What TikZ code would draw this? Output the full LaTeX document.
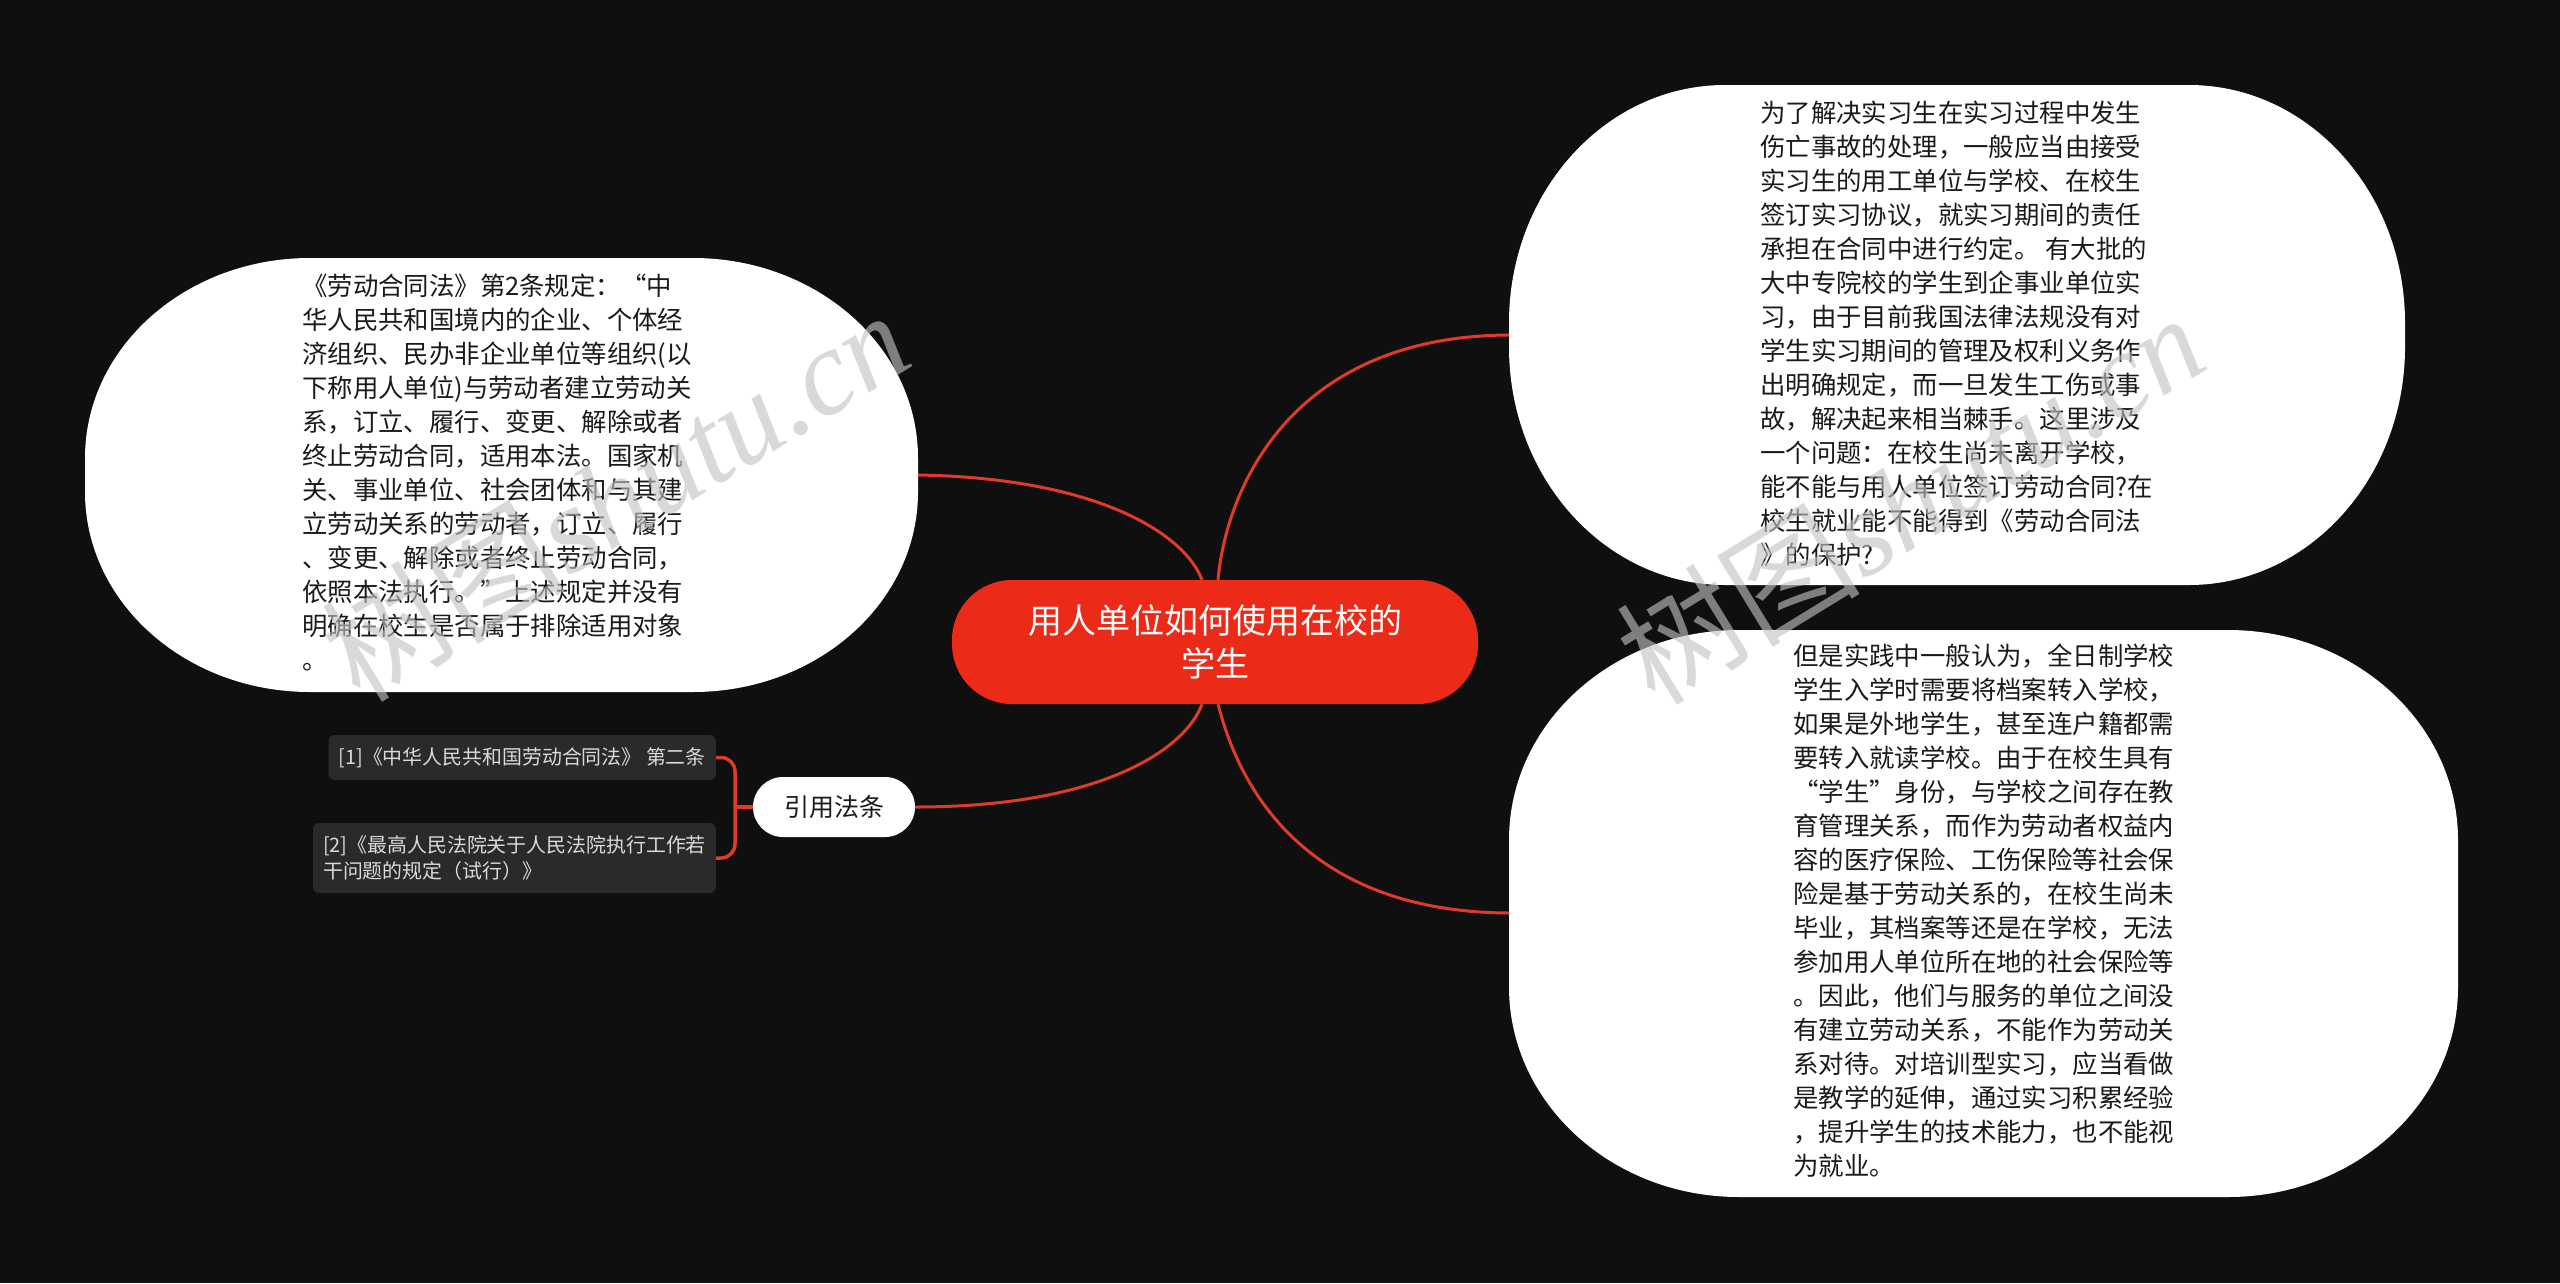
\documentclass[tikz,border=0pt]{standalone}
\usepackage{fontspec}
\setmainfont{Noto Sans CJK SC}
\newfontfamily\cjk{Noto Sans CJK SC}
\newfontfamily\wmserif{Liberation Serif}
\definecolor{bgc}{HTML}{0F0F0F}
\definecolor{rootred}{HTML}{EC2A18}
\definecolor{linkred}{HTML}{E03A2A}
\definecolor{bodyc}{HTML}{1A1A1A}
\definecolor{refgray}{HTML}{2A2A2A}
\definecolor{reftext}{HTML}{DADADA}
\definecolor{wmgray}{HTML}{C3C3C3}
\newcommand\bubblepath[6]{%
  \pgfmathsetmacro\bXa{#1+#5}\pgfmathsetmacro\bXb{#3-#5}%
  \pgfmathsetmacro\bYa{#2+#6}\pgfmathsetmacro\bYb{#4-#6}%
  \pgfmathsetmacro\bKx{0.4477*#5}\pgfmathsetmacro\bKy{0.4477*#6}%
  \fill[white] (\bXa,#2) -- (\bXb,#2)
    .. controls ({#3-\bKx},#2) and (#3,{#2+\bKy}) .. (#3,\bYa) -- (#3,\bYb)
    .. controls (#3,{#4-\bKy}) and ({#3-\bKx},#4) .. (\bXb,#4) -- (\bXa,#4)
    .. controls ({#1+\bKx},#4) and (#1,{#4-\bKy}) .. (#1,\bYb) -- (#1,\bYa)
    .. controls (#1,{#2+\bKy}) and ({#1+\bKx},#2) .. (\bXa,#2) -- cycle;}
\begin{document}
\begin{tikzpicture}[x=1pt,y=-1pt,
  bodytext/.style={anchor=north west, inner sep=0pt, align=left, text=bodyc,
    font=\fontsize{25.4}{34}\selectfont, execute at begin node=\strut},
  rootnode/.style={fill=rootred, rounded corners=60pt, minimum width=526pt,
    minimum height=124pt, inner sep=0pt, align=center, text=white,
    font=\fontsize{34}{43}\selectfont},
  citenode/.style={fill=white, rounded corners=30pt, minimum width=162pt,
    minimum height=60pt, inner sep=0pt, text=bodyc, font=\fontsize{25}{30}\selectfont},
  refbox/.style={fill=refgray, rounded corners=6pt, inner xsep=10pt, inner ysep=0pt,
    align=left, text=reftext, font=\fontsize{19.9}{26}\selectfont, anchor=east},
  link/.style={draw=linkred, line width=3pt},
  bracket/.style={draw=linkred, line width=3.5pt, rounded corners=14pt},
  wm/.style={anchor=base west, rotate=31.5, text=wmgray, text opacity=0.62,
    inner sep=0pt, font=\fontsize{122}{122}\selectfont}]
\fill[bgc] (0,0) rectangle (2560,1283);
\useasboundingbox (0,0) rectangle (2560,1283);
\bubblepath{85}{258}{918}{692}{225}{200}
\bubblepath{1509}{85}{2405}{585}{216}{238}
\bubblepath{1509}{630}{2458}{1197}{230}{210}
\coordinate (lbE) at (918,475);
\coordinate (rtW) at (1509,335);
\coordinate (rbW) at (1509,913);
\node[rootnode] (root) at (1215,642) {用人单位如何使用在校的\\学生};
\node[citenode] (cite) at (834,807) {引用法条};
\node[refbox, minimum height=45pt] (ref1) at (716,757.5) {[1]《中华人民共和国劳动合同法》 第二条};
\node[refbox, minimum height=70pt] (ref2) at (716,858) {[2]《最高人民法院关于人民法院执行工作若\\干问题的规定（试行）》};
\coordinate (brk) at (735,807);
\draw[link] ([xshift=-13pt]root.north) .. controls (1185,535) and (1100,478) .. (lbE);
\draw[link] ([xshift=3pt]root.north) .. controls (1226,490) and (1290,336) .. (rtW);
\draw[link] ([xshift=-13pt]root.south) .. controls (1185,750) and (1100,807) .. (cite.east);
\draw[link] ([xshift=3pt]root.south) .. controls (1228,740) and (1270,912) .. (rbW);
\draw[bracket] (cite.west) -- (brk);
\draw[bracket] (brk) |- (ref1.east);
\draw[bracket] (brk) |- (ref2.east);
\node[bodytext] (lt) at (302,274) {《劳动合同法》第2条规定：“中\\
华人民共和国境内的企业、个体经\\
济组织、民办非企业单位等组织(以\\
下称用人单位)与劳动者建立劳动关\\
系，订立、履行、变更、解除或者\\
终止劳动合同，适用本法。国家机\\
关、事业单位、社会团体和与其建\\
立劳动关系的劳动者，订立、履行\\
、变更、解除或者终止劳动合同，\\
依照本法执行。”上述规定并没有\\
明确在校生是否属于排除适用对象\\
。};
\node[bodytext] (rt) at (1760,101) {为了解决实习生在实习过程中发生\\
伤亡事故的处理，一般应当由接受\\
实习生的用工单位与学校、在校生\\
签订实习协议，就实习期间的责任\\
承担在合同中进行约定。 有大批的\\
大中专院校的学生到企事业单位实\\
习，由于目前我国法律法规没有对\\
学生实习期间的管理及权利义务作\\
出明确规定，而一旦发生工伤或事\\
故，解决起来相当棘手。这里涉及\\
一个问题：在校生尚未离开学校，\\
能不能与用人单位签订劳动合同?在\\
校生就业能不能得到《劳动合同法\\
》的保护?};
\node[bodytext] (rb) at (1793,644) {但是实践中一般认为，全日制学校\\
学生入学时需要将档案转入学校，\\
如果是外地学生，甚至连户籍都需\\
要转入就读学校。由于在校生具有\\
“学生”身份，与学校之间存在教\\
育管理关系，而作为劳动者权益内\\
容的医疗保险、工伤保险等社会保\\
险是基于劳动关系的，在校生尚未\\
毕业，其档案等还是在学校，无法\\
参加用人单位所在地的社会保险等\\
。因此，他们与服务的单位之间没\\
有建立劳动关系，不能作为劳动关\\
系对待。对培训型实习，应当看做\\
是教学的延伸，通过实习积累经验\\
，提升学生的技术能力，也不能视\\
为就业。};
\node[wm] (wm1) at (360,705) {\cjk 树图\wmserif\itshape shutu.cn};
\node[wm] (wm2) at (1655,708) {\cjk 树图\wmserif\itshape shutu.cn};
\end{tikzpicture}
\end{document}
